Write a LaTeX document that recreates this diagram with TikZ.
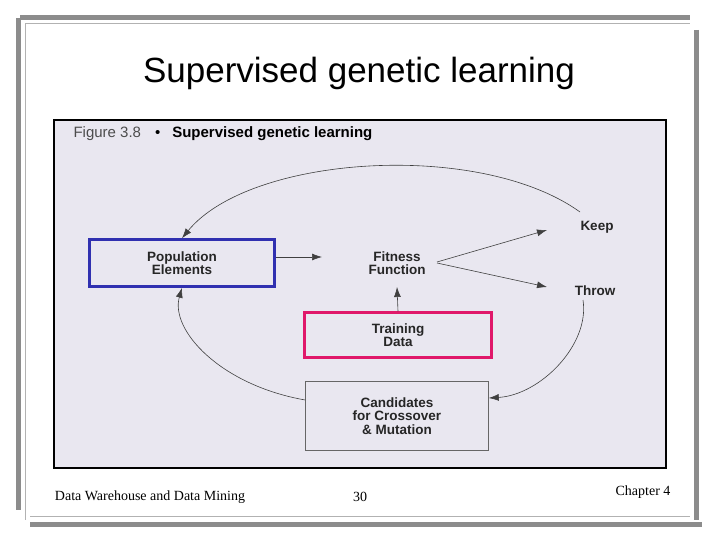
\documentclass[tikz,border=0pt]{standalone}
\usepackage{fontspec}
\setmainfont{Liberation Serif}
\newfontfamily\sans{Liberation Sans}
\usetikzlibrary{arrows.meta}
\definecolor{figbg}{HTML}{E9E7F0}
\definecolor{bblue}{HTML}{3030B0}
\definecolor{bpink}{HTML}{E0186A}
\tikzset{lbl/.style={font=\sans\bfseries\fontsize{13.5}{13.5}\selectfont,align=center,text=black!85},
 arr/.style={-{Latex[length=10pt,width=7pt]},black!75,line width=0.6pt},
 bar/.style={line width=5pt,black!45}}
\begin{document}
\begin{tikzpicture}[x=1pt,y=-1pt]
\useasboundingbox (0,0) rectangle (720,540);
\fill[white] (0,0) rectangle (720,540);
% slide decorations
\draw[bar] (20,18) -- (690,18);
\draw[bar] (18,18) -- (18,510);
\draw[bar] (696,30) -- (696,520);
\draw[bar] (30,524) -- (702,524);
\draw[black!30,line width=1pt] (25,24) -- (690,24);
\draw[black!30,line width=1pt] (25,24) -- (25,520);
\draw[black!30,line width=1pt] (30,516) -- (690,516);
\node (title) at (359,73) {\sans\fontsize{35}{38}\selectfont Supervised genetic learning};
% figure
\draw[fill=figbg,line width=2pt] (54,120) rectangle (666,468);
\node[anchor=west] (cap) at (70,134) {\sans\fontsize{15}{16}\selectfont \textcolor{black!70}{Figure 3.8}\hspace{14pt}\textbullet\hspace{12pt}\textbf{Supervised genetic learning}};
\node[lbl,draw=bblue,line width=2.5pt,minimum width=185pt,minimum height=47pt] (pop) at (182,263) {Population\\Elements};
\node[lbl] (fit) at (397,263) {Fitness\\Function};
\node[lbl] (keep) at (597,227) {Keep};
\node[lbl] (throw) at (595,291) {Throw};
\node[lbl,draw=bpink,line width=2.5pt,minimum width=187pt,minimum height=45pt] (train) at (398,335) {Training\\Data};
\node[lbl,draw=black!60,line width=0.6pt,minimum width=183pt,minimum height=69pt] (cand) at (397,416) {Candidates\\for Crossover\\\& Mutation};
\coordinate (pr) at (322,257);
\draw[arr] (pop.east |- 0,257) -- (pr);
\draw[arr] (train.north) -- (397,287);
\draw[arr] (437,262) -- (547,230);
\draw[arr] (437,263) -- (547,287);
\draw[arr] (580,212) .. controls (480,140) and (250,155) .. (pop.north);
\draw[arr] (583,300) .. controls (590,345) and (540,395) .. (cand.east |- 0,398);
\draw[arr] (cand.west |- 0,400) .. controls (220,385) and (170,330) .. (pop.south);
% footer
\node (f1) at (150,497) {\fontsize{14}{16}\selectfont Data Warehouse and Data Mining};
\node (f2) at (360,497) {\fontsize{14}{16}\selectfont 30};
\node (f3) at (643,492) {\fontsize{14}{16}\selectfont Chapter 4};
\end{tikzpicture}
\end{document}
